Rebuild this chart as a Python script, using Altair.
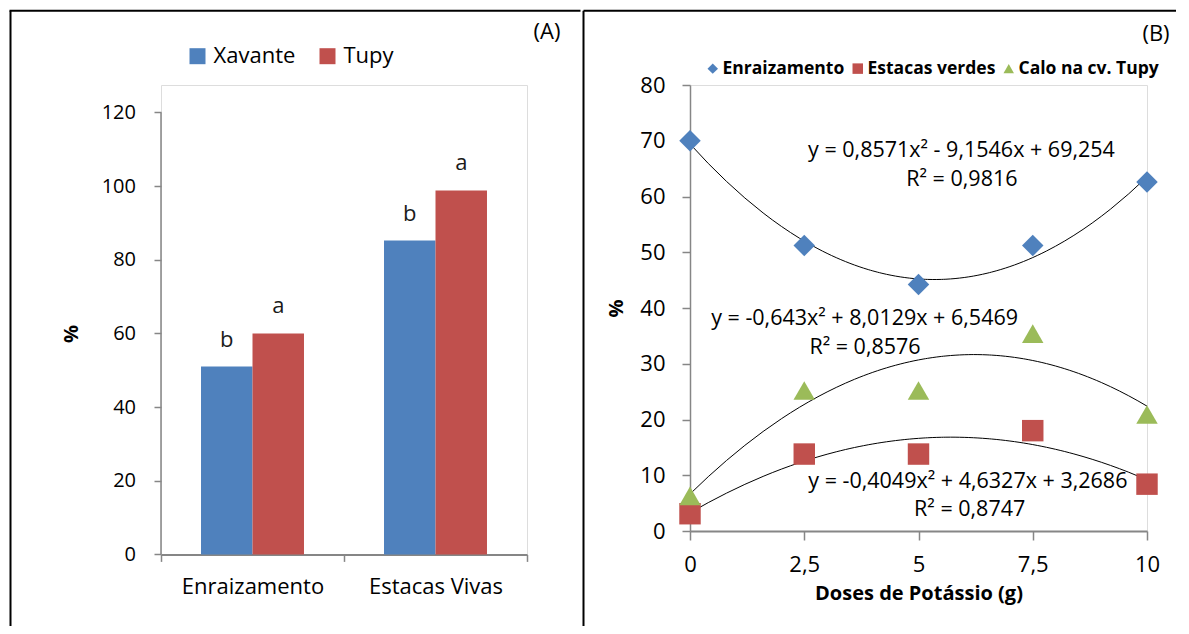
import altair as alt
import pandas as pd

# ---------------- Panel (A) data ----------------
categories = ["Enraizamento", "Estacas Vivas"]
cultivars = ["Xavante", "Tupy"]
xavante_pct = [51, 85.2]
tupy_pct = [60, 98.8]
xavante_letters = ["b", "b"]
tupy_letters = ["a", "a"]
y_ticks_a = [0, 20, 40, 60, 80, 100, 120]

# ---------------- Panel (B) data ----------------
doses = [0, 2.5, 5, 7.5, 10]
enraizamento = [70, 51.2, 44.2, 51.2, 62.6]
estacas_verdes = [3.1, 13.8, 13.8, 18.0, 8.4]
calo_tupy = [6.3, 25.2, 25.2, 35.4, 20.9]
series_b = ["Enraizamento", "Estacas verdes", "Calo na cv. Tupy"]
x_ticks_b = [0, 2.5, 5, 7.5, 10]
y_ticks_b = [0, 10, 20, 30, 40, 50, 60, 70, 80]

eq_labels = [
    "y = 0,8571x² - 9,1546x + 69,254", "R² = 0,9816",
    "y = -0,643x² + 8,0129x + 6,5469", "R² = 0,8576",
    "y = -0,4049x² + 4,6327x + 3,2686", "R² = 0,8747",
]
eq_x = [5.94, 5.95, 3.82, 3.83, 6.08, 6.12]
eq_y = [68.1, 62.95, 38.1, 32.76, 8.8, 3.77]

BLUE, RED, GREEN = "#4F81BD", "#C0504D", "#9BBB59"
AXIS = "#868686"
FONT = "Open Sans"

# ---------------- Panel (A) ----------------
rows_a = []
for i, c in enumerate(categories):
    rows_a.append({"category": c, "cultivar": "Xavante", "value": xavante_pct[i], "letter": xavante_letters[i]})
    rows_a.append({"category": c, "cultivar": "Tupy", "value": tupy_pct[i], "letter": tupy_letters[i]})
df_a = pd.DataFrame(rows_a)

W_A, H_A = 366, 469.4
Y_A_TOP = 127.44  # plot area reaches a little above the 120 tick (aligned with panel B)
x_a = alt.X("category:N", sort=categories,
            scale=alt.Scale(domain=categories, paddingInner=0, paddingOuter=0),
            axis=alt.Axis(title=None, labelAngle=0, labelFontSize=22, labelColor="black",
                          labelFont=FONT, tickBand="extent", tickSize=7, tickColor=AXIS,
                          tickWidth=1.5, domainColor=AXIS, domainWidth=2, labelPadding=15))
xo_a = alt.XOffset("cultivar:N", sort=cultivars,
                   scale=alt.Scale(domain=cultivars, paddingInner=0, paddingOuter=0.777))
y_a = alt.Y("value:Q", scale=alt.Scale(domain=[0, Y_A_TOP], nice=False),
            axis=alt.Axis(values=y_ticks_a, title="%", titleFontSize=20, titleFont=FONT,
                          titleFontWeight="bold", titleColor="black", titlePadding=20,
                          titleY=H_A - 221,
                          labelFontSize=20, labelFont=FONT, labelColor="black", labelPadding=18.5,
                          tickSize=7, tickColor=AXIS, tickWidth=1.5, domain=False, grid=False))

bars = alt.Chart(df_a).mark_bar().encode(
    x=x_a, xOffset=xo_a, y=y_a,
    color=alt.Color("cultivar:N", sort=cultivars,
                    scale=alt.Scale(domain=cultivars, range=[BLUE, RED]),
                    legend=alt.Legend(title=None, orient="none", legendX=25.5, legendY=-39.8,
                                      direction="horizontal", symbolType="square", symbolSize=256,
                                      symbolStrokeWidth=0, labelFontSize=22, labelFont=FONT,
                                      labelColor="black", labelOffset=5, columnPadding=21,
                                      padding=0)),
)
letters = alt.Chart(df_a).mark_text(fontSize=22, font=FONT, color="#1a1a1a", dy=-20,
                                    baseline="alphabetic").encode(
    x=alt.X("category:N", sort=categories), xOffset=alt.XOffset("cultivar:N", sort=cultivars),
    y=alt.Y("value:Q"), text="letter:N")

blank = alt.Data(values=[{}])
y_axis_line_a = alt.Chart(blank).mark_rule(color=AXIS, strokeWidth=1.5).encode(
    x=alt.value(0), y=alt.datum(0), y2=alt.datum(120))
frame_a_top = alt.Chart(blank).mark_rule(color="black", strokeWidth=2, strokeCap="square").encode(
    x=alt.value(-150.5), x2=alt.value(418.5), y=alt.value(-74.3))
frame_a_left = alt.Chart(blank).mark_rule(color="black", strokeWidth=2).encode(
    x=alt.value(-150.5), y=alt.value(-74.3), y2=alt.value(541))
label_a = alt.Chart(blank).mark_text(text="(A)", fontSize=22, font=FONT, color="black").encode(
    x=alt.value(386), y=alt.value(-53))

panel_a = alt.layer(bars, letters, y_axis_line_a, frame_a_top, frame_a_left, label_a).properties(
    width=W_A, height=H_A)

# ---------------- Panel (B) ----------------
rows_b = []
for s, vals in zip(series_b, [enraizamento, estacas_verdes, calo_tupy]):
    for d, v in zip(doses, vals):
        rows_b.append({"dose": d, "value": v, "series": s})
df_b = pd.DataFrame(rows_b)
df_eq = pd.DataFrame({"x": eq_x, "y": eq_y, "label": eq_labels})

W_B, H_B = 457, 446
x_b_scale = alt.Scale(domain=[0, 10], nice=False)
y_b_scale = alt.Scale(domain=[0, 80], nice=False)

points = alt.Chart(df_b).mark_point(filled=True, opacity=1, size=460).encode(
    x=alt.X("dose:Q", scale=x_b_scale,
            axis=alt.Axis(values=x_ticks_b, title="Doses de Potássio (g)",
                          labelExpr="replace(toString(datum.value), '.', ',')",
                          titleFontSize=20, titleFont=FONT, titleFontWeight="bold",
                          titleColor="black", titlePadding=8, labelFontSize=22, labelFont=FONT,
                          labelColor="black", labelPadding=14, labelFlush=False,
                          tickSize=9, tickColor=AXIS, tickWidth=1.5, domainColor=AXIS,
                          domainWidth=2, grid=False)),
    y=alt.Y("value:Q", scale=y_b_scale,
            axis=alt.Axis(values=y_ticks_b, title="%", titleFontSize=20, titleFont=FONT,
                          titleFontWeight="bold", titleColor="black", titlePadding=13,
                          labelFontSize=22, labelFont=FONT, labelColor="black", labelPadding=17,
                          tickSize=8, tickColor=AXIS, tickWidth=1.5, domainColor=AXIS,
                          domainWidth=1.5, grid=False)),
    color=alt.Color("series:N", sort=series_b,
                    scale=alt.Scale(domain=series_b, range=[BLUE, RED, GREEN]),
                    legend=alt.Legend(title=None, orient="none", legendX=14, legendY=-25.5,
                                      direction="horizontal", symbolSize=110,
                                      labelFontSize=17.5, labelFont=FONT, labelFontWeight="bold",
                                      labelColor="black", labelOffset=1, columnPadding=4,
                                      padding=0)),
    shape=alt.Shape("series:N", sort=series_b,
                    scale=alt.Scale(domain=series_b, range=["diamond", "square", "triangle-up"])),
)

curves = alt.Chart(df_b).transform_regression(
    "dose", "value", groupby=["series"], method="poly", order=2, extent=[0, 10]
).mark_line(color="black", strokeWidth=1).encode(
    x=alt.X("dose:Q", scale=x_b_scale), y=alt.Y("value:Q", scale=y_b_scale), detail="series:N")

eqs = alt.Chart(df_eq).mark_text(fontSize=21.5, font=FONT, color="black", baseline="middle").encode(
    x=alt.X("x:Q", scale=x_b_scale), y=alt.Y("y:Q", scale=y_b_scale), text="label:N")

frame_b_top = alt.Chart(blank).mark_rule(color="black", strokeWidth=2).encode(
    x=alt.value(-106.5), x2=alt.value(486), y=alt.value(-74.3))
frame_b_left = alt.Chart(blank).mark_rule(color="black", strokeWidth=2).encode(
    x=alt.value(-106.5), y=alt.value(-74.3), y2=alt.value(541))
label_b = alt.Chart(blank).mark_text(text="(B)", fontSize=22, font=FONT, color="black").encode(
    x=alt.value(466), y=alt.value(-51.3))

panel_b = alt.layer(curves, points, eqs, frame_b_top, frame_b_left, label_b).properties(
    width=W_B, height=H_B)

chart = alt.hconcat(panel_a, panel_b, spacing=0).resolve_scale(
    color="independent", shape="independent",
    x="independent", y="independent"
).properties(padding=0).configure_view(stroke=None).configure(font=FONT)

chart.save("out.html", embed_options={"renderer": "svg", "actions": False})
